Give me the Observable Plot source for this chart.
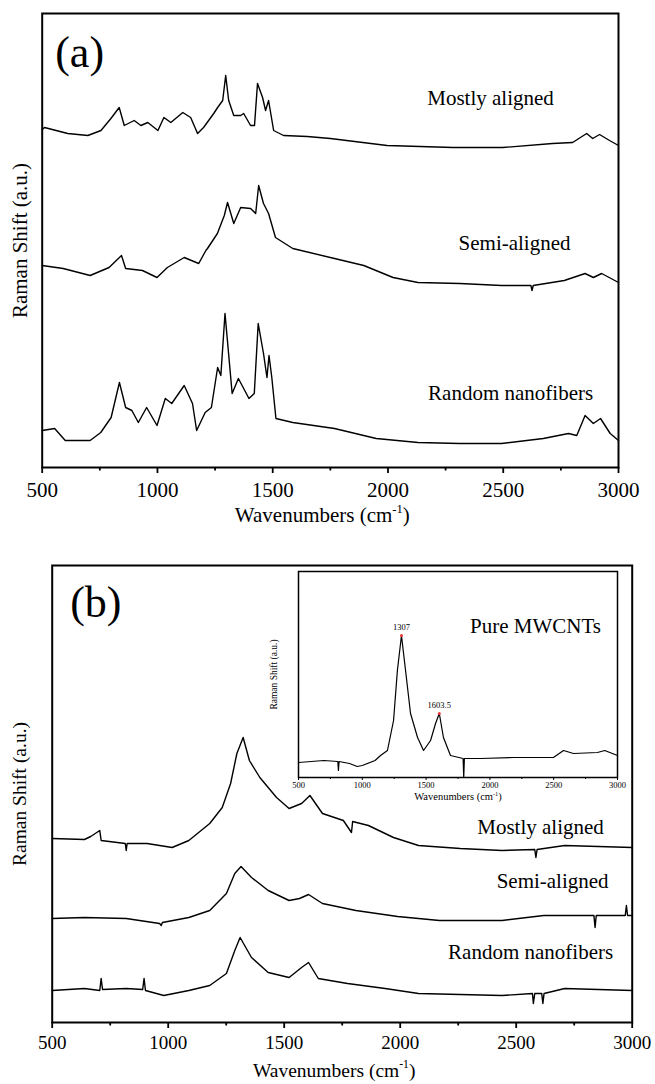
<!DOCTYPE html>
<html><head><meta charset="utf-8">
<script src="https://cdn.jsdelivr.net/npm/d3@7"></script>
<script src="https://cdn.jsdelivr.net/npm/@observablehq/plot@0.6"></script>
<style>
body{margin:0;background:#fff;}
#wrap{position:relative;width:655px;height:1084px;overflow:hidden;background:#fff;}
.abs{position:absolute;}
</style>
</head><body>
<div id="wrap">
  <div id="pa" class="abs" style="left:0;top:0"></div>
  <div id="pb" class="abs" style="left:0;top:540px"></div>
  <div id="pi" class="abs" style="left:260px;top:560px"></div>
</div>
<script>
// ---- data: [wavenumber (cm-1), intensity (a.u., stacked offsets)] ----
const aMostly = [[500,338],[510,340],[611,334],[698,332],[755,337],[798,349],[834,360],[856,342],[899,347],[928,342],[958,345],[1002,337],[1028,350],[1058,345],[1110,355],[1144,350],[1174,334],[1200,340],[1244,354],[1261,360],[1283,367],[1296,392],[1309,367],[1331,352],[1361,352],[1374,354],[1404,342],[1421,342],[1434,384],[1456,370],[1469,357],[1482,367],[1504,337],[1547,332],[1650,331],[1750,329],[1996,322],[2282,320],[2498,320],[2714,324],[2801,325],[2862,334],[2888,329],[2918,333],[2961,327],[3000,322]];
const aSemi = [[500,202],[591,199],[708,192],[790,200],[844,212],[862,199],[935,197],[998,190],[1043,200],[1116,210],[1179,204],[1210,217],[1217,219],[1260,234],[1290,252],[1304,265],[1331,244],[1361,260],[1404,259],[1426,254],[1439,282],[1460,264],[1482,254],[1512,230],[1587,219],[1768,209],[1895,202],[2022,190],[2130,185],[2312,184],[2493,182],[2620,182],[2625,177],[2630,182],[2765,187],[2855,194],[2891,190],[2927,194],[3000,185]];
const aRandom = [[500,37],[554,39],[600,27],[708,27],[754,35],[799,50],[835,85],[862,60],[889,57],[917,45],[953,60],[998,42],[1034,69],[1062,64],[1116,82],[1152,64],[1170,37],[1207,55],[1234,60],[1261,100],[1275,92],[1293,154],[1324,74],[1351,89],[1397,69],[1420,74],[1437,144],[1460,114],[1475,90],[1484,112],[1496,90],[1514,49],[1587,45],[1768,39],[1949,29],[2130,25],[2312,24],[2493,24],[2674,29],[2783,34],[2819,32],[2855,52],[2891,44],[2922,49],[2964,34],[3000,27]];

const bMostly = [[500,184],[639,183],[666,186],[705,192],[711,182],[815,179],[819,172],[823,179],[909,179],[1017,175],[1089,182],[1179,199],[1233,215],[1269,239],[1296,269],[1323,285],[1350,262],[1395,245],[1467,225],[1521,214],[1575,219],[1611,227],[1665,209],[1755,202],[1790,190],[1795,201],[1863,197],[1971,185],[2079,177],[2259,174],[2439,172],[2580,173],[2585,165],[2590,173],[2709,177],[3000,175]];
const bSemi = [[500,104],[639,105],[819,104],[963,99],[970,97],[975,100],[1089,105],[1179,112],[1251,129],[1287,149],[1314,156],[1359,145],[1431,132],[1521,122],[1566,124],[1605,128],[1665,119],[1809,112],[1989,106],[2169,102],[2439,102],[2619,107],[2835,107],[2840,95],[2845,107],[2970,107],[2975,117],[2980,107],[3000,107]];
const bRandom = [[500,32],[639,34],[705,32],[711,44],[717,33],[819,34],[890,33],[896,44],[902,32],[981,27],[1089,32],[1179,37],[1251,49],[1287,72],[1310,85],[1359,65],[1431,50],[1521,45],[1575,55],[1605,60],[1647,44],[1773,39],[1935,34],[2079,29],[2439,27],[2570,29],[2574,19],[2580,29],[2610,29],[2615,19],[2620,29],[2709,34],[3000,32]];

const insetPure = [[500,15],[600,16],[700,17],[808,16],[813,7],[818,16],[900,14],[960,11],[1000,12],[1100,17],[1143,22],[1197,27],[1245,57],[1275,107],[1307,142],[1339,107],[1378,64],[1433,40],[1480,27],[1535,37],[1574,54],[1603.5,64],[1636,40],[1691,22],[1790,19],[1795,0],[1800,19],[1926,19],[2185,20],[2498,20],[2577,27],[2655,24],[2843,25],[2900,27],[3000,22]];
const insetPeaks = [{wn:1307, v:142, label:"1307"}, {wn:1603.5, v:64, label:"1603.5"}];

const seriesNames = ["Mostly aligned", "Semi-aligned", "Random nanofibers"];
const aLabelPos = [[2445,369],[2549,224],[2532,74]];
const bLabelPos = [[2605,195],[2657,141],[2562,70]];
const insetLabel = {wn:2357, v:151, text:"Pure MWCNTs"};

const majorTicks = [500,1000,1500,2000,2500,3000];
const minorTicks = [750,1250,1750,2250,2750];
const xTitle = "Wavenumbers (cm-1)";
const yTitle = "Raman Shift (a.u.)";
const FONT = "'Liberation Serif', 'Times New Roman', serif";

function rows(pairsList) {
  const out = [];
  pairsList.forEach((pairs, i) => pairs.forEach(([wn, v]) => out.push({series: seriesNames[i], wn, v})));
  return out;
}
function labelRows(pos) {
  return pos.map(([wn, v], i) => ({wn, v, text: seriesNames[i]}));
}
function fixSup(svg, size) {
  d3.select(svg).selectAll("text").filter(function(){ return this.textContent === xTitle; }).each(function(){
    const t = d3.select(this);
    t.text(null);
    t.append("tspan").text("Wavenumbers (cm");
    t.append("tspan").attr("dy", -size*0.45).attr("font-size", size*0.6).text("-1");
    t.append("tspan").attr("dy", size*0.45).text(")");
  });
}

function panel({data, labels, tag, height, mt, mb, ml, mr, yMax, tickFont, tickPad, titleFont, titleDy, yTitleDx, tagDx, tagDy}) {
  const svg = Plot.plot({
    width: 655, height,
    marginTop: mt, marginBottom: mb, marginLeft: ml, marginRight: mr,
    style: {fontFamily: FONT, background: "white", color: "black"},
    x: {domain: [500, 3000], label: null},
    y: {domain: [0, yMax], axis: null},
    marks: [
      Plot.line(data, {x: "wn", y: "v", z: "series", stroke: "black", strokeWidth: 1.4, strokeLinejoin: "round"}),
      Plot.frame({stroke: "black", strokeWidth: 2}),
      Plot.axisX({anchor: "bottom", ticks: majorTicks, tickSize: 6, tickPadding: tickPad, fontSize: tickFont, label: null, strokeWidth: 1.8, tickFormat: d => String(d)}),
      Plot.axisX({anchor: "bottom", ticks: minorTicks, tickSize: 3.5, label: null, strokeWidth: 1.8, tickFormat: () => ""}),
      Plot.text(labels, {x: "wn", y: "v", text: "text", fontSize: 21, textAnchor: "middle", lineAnchor: "middle", fill: "black"}),
      Plot.text([tag], {frameAnchor: "top-left", text: d => d, dx: tagDx, dy: tagDy, fontSize: 44, textAnchor: "start", lineAnchor: "bottom", fill: "black"}),
      Plot.text([xTitle], {frameAnchor: "bottom", text: d => d, dx: -8, dy: titleDy, fontSize: titleFont, textAnchor: "middle", lineAnchor: "middle", fill: "black"}),
      Plot.text([yTitle], {frameAnchor: "left", text: d => d, rotate: -90, dx: yTitleDx, fontSize: titleFont, textAnchor: "middle", lineAnchor: "middle", fill: "black"})
    ]
  });
  fixSup(svg, titleFont);
  return svg;
}

const svgA = panel({
  data: rows([aMostly, aSemi, aRandom]), labels: labelRows(aLabelPos), tag: "(a)",
  height: 540, mt: 13, mb: 73, ml: 41.7, mr: 37, yMax: 454,
  tickFont: 21, tickPad: 9, titleFont: 21, titleDy: 48, yTitleDx: -21.5, tagDx: 13, tagDy: 53
});
document.getElementById("pa").appendChild(svgA);

const svgB = panel({
  data: rows([bMostly, bSemi, bRandom]), labels: labelRows(bLabelPos), tag: "(b)",
  height: 544, mt: 25, mb: 62, ml: 51.7, mr: 23.3, yMax: 457,
  tickFont: 19, tickPad: 7, titleFont: 19.5, titleDy: 48, yTitleDx: -32, tagDx: 18, tagDy: 51
});
document.getElementById("pb").appendChild(svgB);

const inset = Plot.plot({
  width: 370, height: 255,
  marginTop: 11, marginBottom: 38, marginLeft: 38, marginRight: 13,
  style: {fontFamily: FONT, background: "transparent", color: "black", overflow: "visible"},
  x: {domain: [500, 3000], label: null},
  y: {domain: [0, 206], axis: null},
  marks: [
    Plot.line(insetPure, {x: d => d[0], y: d => d[1], stroke: "black", strokeWidth: 1.2}),
    Plot.frame({stroke: "black", strokeWidth: 1.5}),
    Plot.axisX({anchor: "bottom", ticks: majorTicks, tickSize: 3, tickPadding: 1, fontSize: 8.5, label: null, strokeWidth: 1, tickFormat: d => String(d)}),
    Plot.axisX({anchor: "bottom", ticks: minorTicks, tickSize: 2, label: null, strokeWidth: 1, tickFormat: () => ""}),
    Plot.dot(insetPeaks, {x: "wn", y: "v", r: 1.5, fill: "#e33", stroke: null}),
    Plot.text(insetPeaks, {x: "wn", y: "v", text: "label", dy: -6, fontSize: 8.5, textAnchor: "middle", lineAnchor: "bottom", fill: "black"}),
    Plot.text([insetLabel], {x: "wn", y: "v", text: "text", fontSize: 21, textAnchor: "middle", lineAnchor: "middle", fill: "black"}),
    Plot.text([xTitle], {frameAnchor: "bottom", text: d => d, dy: 19.5, fontSize: 10.5, textAnchor: "middle", lineAnchor: "middle", fill: "black"}),
    Plot.text([yTitle], {frameAnchor: "left", text: d => d, rotate: -90, dx: -25, fontSize: 9.5, textAnchor: "middle", lineAnchor: "middle", fill: "black"})
  ]
});
fixSup(inset, 10.5);
document.getElementById("pi").appendChild(inset);
</script>
</body></html>
